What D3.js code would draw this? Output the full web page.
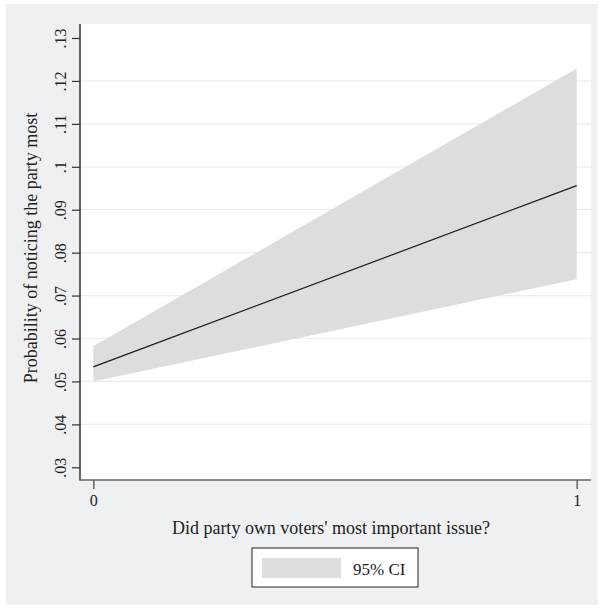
<!DOCTYPE html>
<html lang="en">
	<head>
		<meta charset="utf-8">
		<title>Probability of noticing the party most</title>
		<script type="text/javascript" src="https://cdn.jsdelivr.net/npm/d3@7"></script>
		<style type="text/css">
			body { margin: 0; background: #fff; }
			text { font-family: "Liberation Serif", "DejaVu Serif", serif; fill: #222; }
		</style>
	</head>
	<body>
		<script type="text/javascript">

			// data
			var xValues = [0, 1];
			var fitValues = [0.0534, 0.0956];
			var lowerValues = [0.0500, 0.0738];
			var upperValues = [0.0582, 0.1229];
			var yTicks = [0.03, 0.04, 0.05, 0.06, 0.07, 0.08, 0.09, 0.10, 0.11, 0.12, 0.13];
			var yTickLabels = [".03", ".04", ".05", ".06", ".07", ".08", ".09", ".1", ".11", ".12", ".13"];
			var xTicks = [0, 1];
			var xTickLabels = ["0", "1"];

			var w = 604;
			var h = 610;

			var rows = xValues.map(function(x, i) {
				return { x: x, fit: fitValues[i], lo: lowerValues[i], hi: upperValues[i] };
			});

			var svg = d3.select("body")
						.append("svg")
						.attr("width", w)
						.attr("height", h);

			// outer gray panel
			svg.append("rect")
			   .attr("x", 6).attr("y", 4)
			   .attr("width", 592).attr("height", 601)
			   .attr("fill", "#eff0f2");

			// plot region
			var plotL = 80, plotR = 591, plotT = 24, plotB = 480;
			svg.append("rect")
			   .attr("x", plotL).attr("y", plotT)
			   .attr("width", plotR - plotL).attr("height", plotB - plotT)
			   .attr("fill", "#fff");

			var xScale = d3.scaleLinear()
						   .domain([0, 1])
						   .range([93.3, 576.7]);

			var yScale = d3.scaleLinear()
						   .domain([0.03, 0.13])
						   .range([467.3, 38]);

			// gridlines (not at the ends)
			svg.selectAll("line.grid")
			   .data(yTicks.slice(1, -1))
			   .enter()
			   .append("line")
			   .attr("class", "grid")
			   .attr("x1", plotL).attr("x2", plotR)
			   .attr("y1", function(d) { return yScale(d); })
			   .attr("y2", function(d) { return yScale(d); })
			   .attr("stroke", "#ebecee")
			   .attr("stroke-width", 1.2);

			// confidence band
			var area = d3.area()
						 .x(function(d) { return xScale(d.x); })
						 .y0(function(d) { return yScale(d.lo); })
						 .y1(function(d) { return yScale(d.hi); });

			svg.append("path")
			   .datum(rows)
			   .attr("d", area)
			   .attr("fill", "#dcdddf");

			var line = d3.line()
						 .x(function(d) { return xScale(d.x); })
						 .y(function(d) { return yScale(d.fit); });

			svg.append("path")
			   .datum(rows)
			   .attr("d", line)
			   .attr("fill", "none")
			   .attr("stroke", "#1a1a1a")
			   .attr("stroke-width", 1.2);

			// Y axis
			var yAxis = d3.axisLeft(yScale)
						  .tickValues(yTicks)
						  .tickSize(8)
						  .tickPadding(5)
						  .tickFormat(function(d, i) { return yTickLabels[i]; });

			var gy = svg.append("g")
						.attr("transform", "translate(" + plotL + ",0)")
						.call(yAxis);
			gy.select(".domain")
			  .attr("d", "M0," + plotT + "V" + (plotB + 0.5))
			  .attr("stroke", "#333").attr("stroke-width", 1.5);
			gy.selectAll(".tick line").attr("stroke", "#333").attr("stroke-width", 1.2);
			gy.selectAll(".tick text")
			  .attr("x", null).attr("dy", null)
			  .attr("text-anchor", "middle")
			  .attr("transform", "translate(-14,0) rotate(-90)")
			  .style("font-size", "16px")
			  .style("font-family", "'Liberation Serif', serif")
			  .attr("fill", "#222");

			// X axis
			var xAxis = d3.axisBottom(xScale)
						  .tickValues(xTicks)
						  .tickSize(9)
						  .tickPadding(6)
						  .tickFormat(function(d, i) { return xTickLabels[i]; });

			var gx = svg.append("g")
						.attr("transform", "translate(0," + plotB + ")")
						.call(xAxis);
			gx.select(".domain")
			  .attr("d", "M" + (plotL - 0.5) + ",0H" + plotR)
			  .attr("stroke", "#666").attr("stroke-width", 1.5);
			gx.selectAll(".tick line").attr("stroke", "#666").attr("stroke-width", 1.5);
			gx.selectAll(".tick text")
			  .style("font-size", "16px")
			  .style("font-family", "'Liberation Serif', serif")
			  .attr("fill", "#222");

			// axis titles
			svg.append("text")
			   .attr("x", 331)
			   .attr("y", 534)
			   .attr("text-anchor", "middle")
			   .style("font-size", "18px")
			   .text("Did party own voters' most important issue?");

			svg.append("text")
			   .attr("transform", "translate(37,248) rotate(-90)")
			   .attr("text-anchor", "middle")
			   .style("font-size", "18px")
			   .text("Probability of noticing the party most");

			// legend
			svg.append("rect")
			   .attr("x", 252).attr("y", 548)
			   .attr("width", 166).attr("height", 39)
			   .attr("fill", "#fff")
			   .attr("stroke", "#222")
			   .attr("stroke-width", 1);
			svg.append("rect")
			   .attr("x", 262).attr("y", 558)
			   .attr("width", 79).attr("height", 20)
			   .attr("fill", "#dcdddf");
			svg.append("text")
			   .attr("x", 353).attr("y", 575)
			   .style("font-size", "17px")
			   .text("95% CI");

		</script>
	</body>
</html>
